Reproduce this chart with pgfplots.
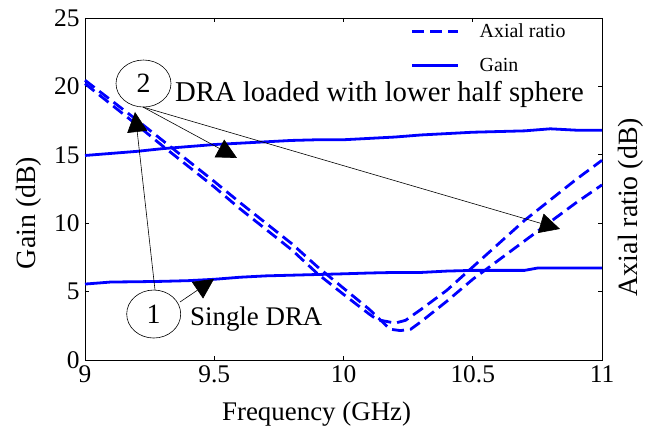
\documentclass[border=0pt]{standalone}
\usepackage{fontspec}
\setmainfont{Liberation Serif}
\usepackage{pgfplots}
\pgfplotsset{compat=1.18}
\usetikzlibrary{arrows.meta}
\definecolor{mblue}{RGB}{0,0,255}
\begin{document}
\begin{tikzpicture}
\useasboundingbox (-85bp,-75bp) rectangle (573bp,360bp);
\begin{axis}[
  scale only axis,
  width=517bp, height=342bp,
  xmin=9, xmax=11, ymin=0, ymax=25,
  xtick={9,9.5,10,10.5,11},
  ytick={0,5,10,15,20,25},
  tick align=inside,
  major tick length=4bp,
  axis line style={line width=0.8bp},
  every tick/.style={black, line width=0.8bp},
  /pgf/number format/assume math mode=true,
  ticklabel style={font=\fontsize{25.5}{30}\selectfont},
  xticklabel style={yshift=-2.5bp},
  yticklabel style={xshift=-2bp},
  xlabel={Frequency (GHz)},
  ylabel={Gain (dB)},
  xlabel style={at={([yshift=-60bp]rel axis cs:0.448,0)}, anchor=base, inner sep=0pt, font=\fontsize{27}{32}\selectfont},
  ylabel style={at={([xshift=-49bp]rel axis cs:0,0.43)}, anchor=base, inner sep=0pt, font=\fontsize{28}{32}\selectfont},
  clip=false,
  legend style={draw=none, fill=none, font=\fontsize{20}{24}\selectfont,
    at={(rel axis cs:0.63,0.99)}, anchor=north west, inner sep=0pt,
    row sep=15bp, nodes={inner xsep=10bp},
    /tikz/every odd column/.append style={column sep=10bp}},
  legend cell align=left,
  legend image code/.code={\draw[#1] plot coordinates {(0bp,0bp) (23bp,0bp) (46bp,0bp)};},
]
% Axial ratio, curve A
\addplot[mblue, line width=2.8bp, dash pattern=on 12bp off 6bp] coordinates {
(9.0,20.2) (9.1,18.7) (9.2,17.2) (9.3,15.65) (9.4,14.15) (9.5,12.65) (9.6,11.05)
(9.7,9.55) (9.8,8.05) (9.9,6.3) (10.0,4.8) (10.1,3.35) (10.13,2.95) (10.2,2.7)
(10.24,2.9) (10.3,3.7) (10.4,5.1) (10.5,6.8) (10.6,8.5) (10.7,10.2) (10.8,11.7)
(10.9,13.2) (11.0,14.6)};
\addlegendentry{Axial ratio}
% Gain, DRA loaded with lower half sphere
\addplot[mblue, line width=2.8bp] coordinates {
(9.0,14.95) (9.1,15.1) (9.2,15.25) (9.3,15.45) (9.4,15.6) (9.5,15.75) (9.6,15.85)
(9.7,15.95) (9.8,16.05) (9.9,16.1) (10.0,16.1) (10.1,16.2) (10.2,16.3) (10.3,16.45)
(10.4,16.55) (10.5,16.65) (10.6,16.7) (10.7,16.75) (10.8,16.9) (10.9,16.8) (11.0,16.8)};
\addlegendentry{Gain}
% Axial ratio, curve B
\addplot[mblue, line width=2.8bp, dash pattern=on 12bp off 6bp, forget plot] coordinates {
(9.0,20.45) (9.1,19.0) (9.2,17.55) (9.3,16.05) (9.4,14.55) (9.5,13.05) (9.6,11.5)
(9.7,10.0) (9.8,8.5) (9.9,6.8) (10.0,5.25) (10.1,3.7) (10.18,2.25) (10.22,2.15)
(10.26,2.25) (10.3,2.8) (10.4,4.3) (10.5,5.9) (10.6,7.3) (10.7,8.7) (10.8,10.1)
(10.9,11.5) (11.0,12.8)};
% Gain, single DRA
\addplot[mblue, line width=2.8bp, forget plot] coordinates {
(9.0,5.55) (9.1,5.7) (9.2,5.72) (9.3,5.75) (9.4,5.8) (9.5,5.9) (9.6,6.05)
(9.7,6.15) (9.8,6.2) (9.9,6.25) (10.0,6.3) (10.1,6.36) (10.2,6.4) (10.3,6.4)
(10.4,6.5) (10.5,6.55) (10.6,6.55) (10.7,6.55) (10.75,6.72) (10.8,6.72) (10.9,6.72) (11.0,6.72)};
% annotations
\draw[line width=0.6bp] (axis cs:9.2263,20.21) ellipse [x radius=27.5bp, y radius=23.5bp];
\node[font=\fontsize{28}{32}\selectfont] at (axis cs:9.2263,20.21) {2};
\draw[line width=0.6bp] (axis cs:9.2658,3.36) ellipse [x radius=27bp, y radius=24bp];
\node[font=\fontsize{28}{32}\selectfont] at (axis cs:9.2658,3.36) {1};
\node[font=\fontsize{28.8}{32}\selectfont, anchor=base west, inner sep=0pt] at (axis cs:9.348,18.86) {DRA loaded with lower half sphere};
\node[font=\fontsize{27}{32}\selectfont, anchor=base west, inner sep=0pt] at (axis cs:9.406,2.49) {Single DRA};
\draw[line width=0.6bp, -{Triangle[length=20bp,width=20bp]}] (axis cs:9.2708,5.12) -- (axis cs:9.1934,18.13);
\draw[line width=0.6bp, -{Triangle[length=20bp,width=20bp]}] (axis cs:9.3675,4.24) -- (axis cs:9.499,5.92);
\draw[line width=0.6bp, -{Triangle[length=20bp,width=20bp]}] (axis cs:9.2244,18.49) -- (axis cs:9.588,14.77);
\draw[line width=0.6bp, -{Triangle[length=20bp,width=20bp]}] (axis cs:9.2244,18.49) -- (axis cs:10.8375,9.58);
\node[rotate=90, anchor=base, inner sep=0pt, font=\fontsize{28}{32}\selectfont] at ([xshift=35bp]rel axis cs:1,0.447) {Axial ratio (dB)};
\end{axis}
\end{tikzpicture}
\end{document}
